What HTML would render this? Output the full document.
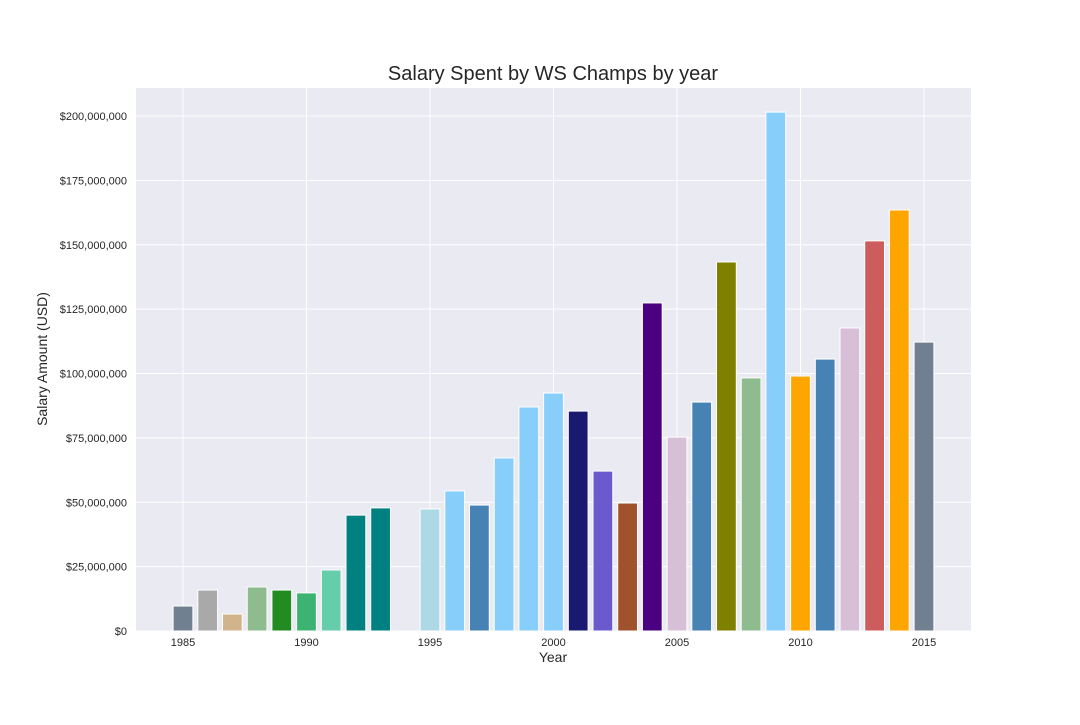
<!DOCTYPE html>
<html><head><meta charset="utf-8"><style>
body{margin:0;background:#fff;font-family:"Liberation Sans",sans-serif;}
</style></head><body>
<svg id="chart" width="1080" height="720" xmlns="http://www.w3.org/2000/svg" font-family="Liberation Sans, sans-serif">
<rect width="1080" height="720" fill="#fff"/>
<rect x="136" y="88" width="835" height="543" fill="#eaeaf2"/>
<g id="grid"></g><g id="bars"></g><g id="ticks"></g>
<text x="553" y="80" font-size="20" text-anchor="middle" fill="#262626">Salary Spent by WS Champs by year</text>
<text x="553" y="662" font-size="14" text-anchor="middle" fill="#262626">Year</text>
<text transform="translate(47,359) rotate(-90)" font-size="14" text-anchor="middle" fill="#262626">Salary Amount (USD)</text>
</svg>
<script>
const years=[1985,1986,1987,1988,1989,1990,1991,1992,1993,1995,1996,1997,1998,1999,2000,2001,2002,2003,2004,2005,2006,2007,2008,2009,2010,2011,2012,2013,2014,2015];
const salaries=[9.7,15.9,6.6,17.1,15.9,14.8,23.7,45,47.8,47.4,54.4,48.9,67.2,87,92.4,85.4,62.1,49.7,127.4,75.3,88.9,143.3,98.3,201.5,99,105.6,117.7,151.5,163.5,112.2];
const colors=["slategray","darkgray","tan","darkseagreen","forestgreen","mediumseagreen","mediumaquamarine","teal","teal","lightblue","lightskyblue","steelblue","lightskyblue","lightskyblue","lightskyblue","midnightblue","slateblue","sienna","indigo","thistle","steelblue","olive","darkseagreen","lightskyblue","orange","steelblue","thistle","indianred","orange","slategray"];
const xTicks=[1985,1990,1995,2000,2005,2010,2015];
const yTicks=[0,25,50,75,100,125,150,175,200];
const NS="http://www.w3.org/2000/svg";
const xs=y=>183+(y-1985)*(924-183)/30;
const ys=v=>631-v*515/200;
function mk(t,a,p){const e=document.createElementNS(NS,t);for(const k in a)e.setAttribute(k,a[k]);p.appendChild(e);return e;}
const g=document.getElementById('grid'),b=document.getElementById('bars'),t=document.getElementById('ticks');
yTicks.forEach(v=>{const l=mk('line',{x1:136,x2:971,y1:ys(v),y2:ys(v),stroke:'#fff','stroke-width':1},g);


const tx=mk('text',{x:127,y:ys(v)+4,'font-size':11,'text-anchor':'end',fill:'#262626'},t);
tx.textContent='$'+(v*1e6).toLocaleString('en-US');

});
xTicks.forEach(v=>{const l=mk('line',{x1:xs(v),x2:xs(v),y1:88,y2:631,stroke:'#fff','stroke-width':1},g);


const tx=mk('text',{x:xs(v),y:646,'font-size':11,'text-anchor':'middle',fill:'#262626'},t);
tx.textContent=v;

});
const w=0.8*(924-183)/30;
years.forEach((y,i)=>{const r=mk('rect',{x:xs(y)-w/2,y:ys(salaries[i]),width:w,height:631-ys(salaries[i]),fill:colors[i],stroke:'#fff','stroke-width':1},b);

});
</script>
</body></html>
